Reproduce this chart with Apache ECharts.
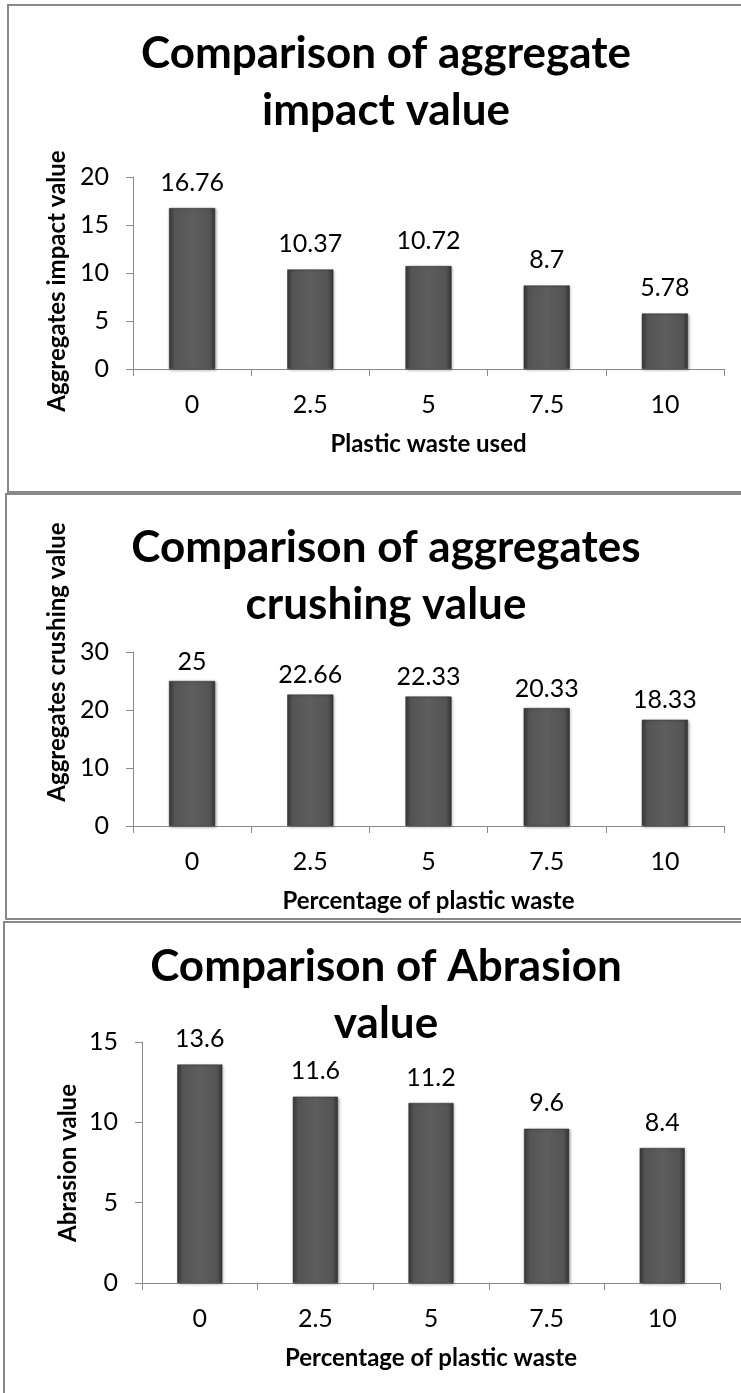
<!DOCTYPE html>
<html>
<head>
<meta charset="utf-8">
<script src="https://cdn.jsdelivr.net/npm/echarts@6/dist/echarts.min.js"></script>
<style>
  html, body { margin: 0; padding: 0; background: #fff; }
  #chart { width: 741px; height: 1393px; }
</style>
</head>
<body>
<div id="chart"></div>
<script>
// Plastic waste content (%) shared by all three tests
const plasticContent = ['0', '2.5', '5', '7.5', '10'];

// Test results
const impactValues = [16.76, 10.37, 10.72, 8.7, 5.78];
const crushingValues = [25, 22.66, 22.33, 20.33, 18.33];
const abrasionValues = [13.6, 11.6, 11.2, 9.6, 8.4];

// Chart titles and axis titles
const chartTitles = [
  'Comparison of aggregate\nimpact value',
  'Comparison of aggregates\ncrushing value',
  'Comparison of Abrasion\nvalue'
];
const yTitles = ['Aggregates impact value', 'Aggregates crushing value', 'Abrasion value'];
const xTitles = ['Plastic waste used', 'Percentage of plastic waste', 'Percentage of plastic waste'];

// Y scale settings for each panel
const yMax = [20, 30, 15];
const yStep = [5, 10, 5];

const FONT = 'Lato, "Open Sans", sans-serif';

// Panel geometry (pixels)
const panels = [
  { left: 133, right: 17, top: 177, height: 192, titleTop: 20, yTitleX: 57, yTitleY: 281, labelDist: 13, box: [8, 5, 900, 487] },
  { left: 133, right: 17, top: 652, height: 174, titleTop: 514, yTitleX: 57, yTitleY: 662, labelDist: 7, box: [6, 494, 900, 425] },
  { left: 142, right: 21, top: 1042, height: 241, titleTop: 933, yTitleX: 68, yTitleY: 1163, labelDist: 13, box: [4, 922, 900, 560] }
];
const seriesData = [impactValues, crushingValues, abrasionValues];

const barColor = {
  type: 'linear', x: 0, y: 0, x2: 1, y2: 0,
  colorStops: [
    { offset: 0, color: '#383838' },
    { offset: 0.12, color: '#545454' },
    { offset: 0.5, color: '#5e5e5e' },
    { offset: 0.88, color: '#545454' },
    { offset: 1, color: '#343434' }
  ]
};

const option = {
  backgroundColor: '#ffffff',
  animation: false,
  title: panels.map((p, i) => ({
    text: chartTitles[i],
    left: 381,
    top: p.titleTop,
    textAlign: 'center',
    textStyle: { fontFamily: FONT, fontSize: 44, fontWeight: 'bold', color: '#000', lineHeight: 57 }
  })),
  grid: panels.map(p => ({ left: p.left, right: p.right, top: p.top, height: p.height, containLabel: false })),
  xAxis: panels.map((p, i) => ({
    type: 'category',
    gridIndex: i,
    data: plasticContent,
    axisLine: { show: true, lineStyle: { color: '#8a8a8a', width: 1 } },
    axisTick: { show: true, length: 7, lineStyle: { color: '#8a8a8a' } },
    axisLabel: { fontFamily: FONT, fontSize: 25, color: '#000', margin: 23 },
    name: xTitles[i],
    nameLocation: 'middle',
    nameGap: 63,
    nameTextStyle: { fontFamily: FONT, fontSize: 24, fontWeight: 'bold', color: '#000' }
  })),
  yAxis: panels.map((p, i) => ({
    type: 'value',
    gridIndex: i,
    min: 0,
    max: yMax[i],
    interval: yStep[i],
    axisLine: { show: true, lineStyle: { color: '#8a8a8a', width: 1 } },
    axisTick: { show: true, length: 7, lineStyle: { color: '#8a8a8a' } },
    splitLine: { show: false },
    axisLabel: { fontFamily: FONT, fontSize: 25, color: '#000', margin: 24 }
  })),
  series: panels.map((p, i) => ({
    type: 'bar',
    xAxisIndex: i,
    yAxisIndex: i,
    data: seriesData[i],
    barWidth: '39%',
    itemStyle: {
      color: barColor,
      borderColor: '#2f2f2f',
      borderWidth: 0.5,
      shadowColor: 'rgba(0,0,0,0.35)',
      shadowBlur: 3,
      shadowOffsetX: 1,
      shadowOffsetY: 1
    },
    label: {
      show: true,
      position: 'top',
      distance: p.labelDist,
      fontFamily: FONT,
      fontSize: 25,
      color: '#000'
    }
  })),
  graphic: [
    // Panel frames
    ...panels.map(p => ({
      type: 'rect',
      shape: { x: p.box[0], y: p.box[1], width: p.box[2], height: p.box[3] },
      style: { fill: 'none', stroke: '#888888', lineWidth: 2 },
      z: -1,
      silent: true
    })),
    // Rotated y-axis titles
    ...panels.map((p, i) => ({
      type: 'text',
      x: p.yTitleX,
      y: p.yTitleY,
      rotation: Math.PI / 2,
      style: {
        text: yTitles[i],
        fontFamily: FONT,
        fontSize: 24,
        fontWeight: 'bold',
        fill: '#000',
        align: 'center',
        verticalAlign: 'middle'
      },
      silent: true
    }))
  ]
};

const chart = echarts.init(document.getElementById('chart'), null, { renderer: 'canvas' });
chart.setOption(option);
</script>
</body>
</html>
